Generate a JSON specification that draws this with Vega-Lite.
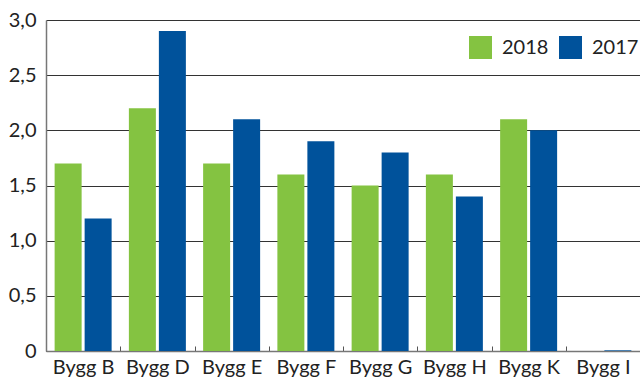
{
  "$schema": "https://vega.github.io/schema/vega-lite/v6.json",
  "width": 594,
  "height": 331,
  "autosize": {"type": "none"},
  "padding": {"left": 46, "top": 20, "right": 0, "bottom": 32},
  "background": "white",
  "data": {
    "values": [
      {"bygg": "Bygg B", "year": "2018", "value": 1.7},
      {"bygg": "Bygg B", "year": "2017", "value": 1.2},
      {"bygg": "Bygg D", "year": "2018", "value": 2.2},
      {"bygg": "Bygg D", "year": "2017", "value": 2.9},
      {"bygg": "Bygg E", "year": "2018", "value": 1.7},
      {"bygg": "Bygg E", "year": "2017", "value": 2.1},
      {"bygg": "Bygg F", "year": "2018", "value": 1.6},
      {"bygg": "Bygg F", "year": "2017", "value": 1.9},
      {"bygg": "Bygg G", "year": "2018", "value": 1.5},
      {"bygg": "Bygg G", "year": "2017", "value": 1.8},
      {"bygg": "Bygg H", "year": "2018", "value": 1.6},
      {"bygg": "Bygg H", "year": "2017", "value": 1.4},
      {"bygg": "Bygg K", "year": "2018", "value": 2.1},
      {"bygg": "Bygg K", "year": "2017", "value": 2.0},
      {"bygg": "Bygg I", "year": "2018", "value": 0},
      {"bygg": "Bygg I", "year": "2017", "value": 0.006}
    ]
  },
  "mark": {"type": "bar"},
  "encoding": {
    "x": {
      "field": "bygg",
      "type": "nominal",
      "sort": null,
      "scale": {"paddingInner": 0, "paddingOuter": 0},
      "axis": {
        "title": null,
        "labelAngle": 0,
        "tickBand": "extent",
        "tickSize": -5,
        "tickColor": "#555",
        "domainColor": "#777",
        "domainWidth": 1.5,
        "labelPadding": 11,
        "labelFontSize": 20,
        "labelColor": "#222",
        "labelFont": "Lato"
      }
    },
    "xOffset": {
      "field": "year",
      "type": "nominal",
      "sort": ["2018", "2017"],
      "scale": {"paddingInner": 0.1, "paddingOuter": 0.2875}
    },
    "y": {
      "field": "value",
      "type": "quantitative",
      "scale": {"domain": [0, 3], "nice": false},
      "axis": {
        "title": null,
        "values": [0, 0.5, 1, 1.5, 2, 2.5, 3],
        "labelExpr": "datum.value == 0 ? '0' : replace(format(datum.value, '.1f'), '.', ',')",
        "ticks": false,
        "labelPadding": 10,
        "labelFontSize": 20,
        "labelColor": "#222",
        "labelFont": "Lato",
        "domainColor": "#777",
        "domainWidth": 1.5,
        "grid": true,
        "gridColor": "#333",
        "gridWidth": 1
      }
    },
    "color": {
      "field": "year",
      "type": "nominal",
      "sort": ["2018", "2017"],
      "scale": {"domain": ["2018", "2017"], "range": ["#84c341", "#00529b"]},
      "legend": {
        "title": null,
        "orient": "none",
        "legendX": 423,
        "legendY": 16,
        "direction": "horizontal",
        "symbolType": "square",
        "symbolSize": 529,
        "symbolStrokeWidth": 0,
        "labelFontSize": 20,
        "labelFont": "Lato",
        "labelColor": "#222",
        "labelOffset": 10,
        "columnPadding": 10,
        "fillColor": "white"
      }
    }
  },
  "config": {
    "view": {"stroke": null}
  }
}
